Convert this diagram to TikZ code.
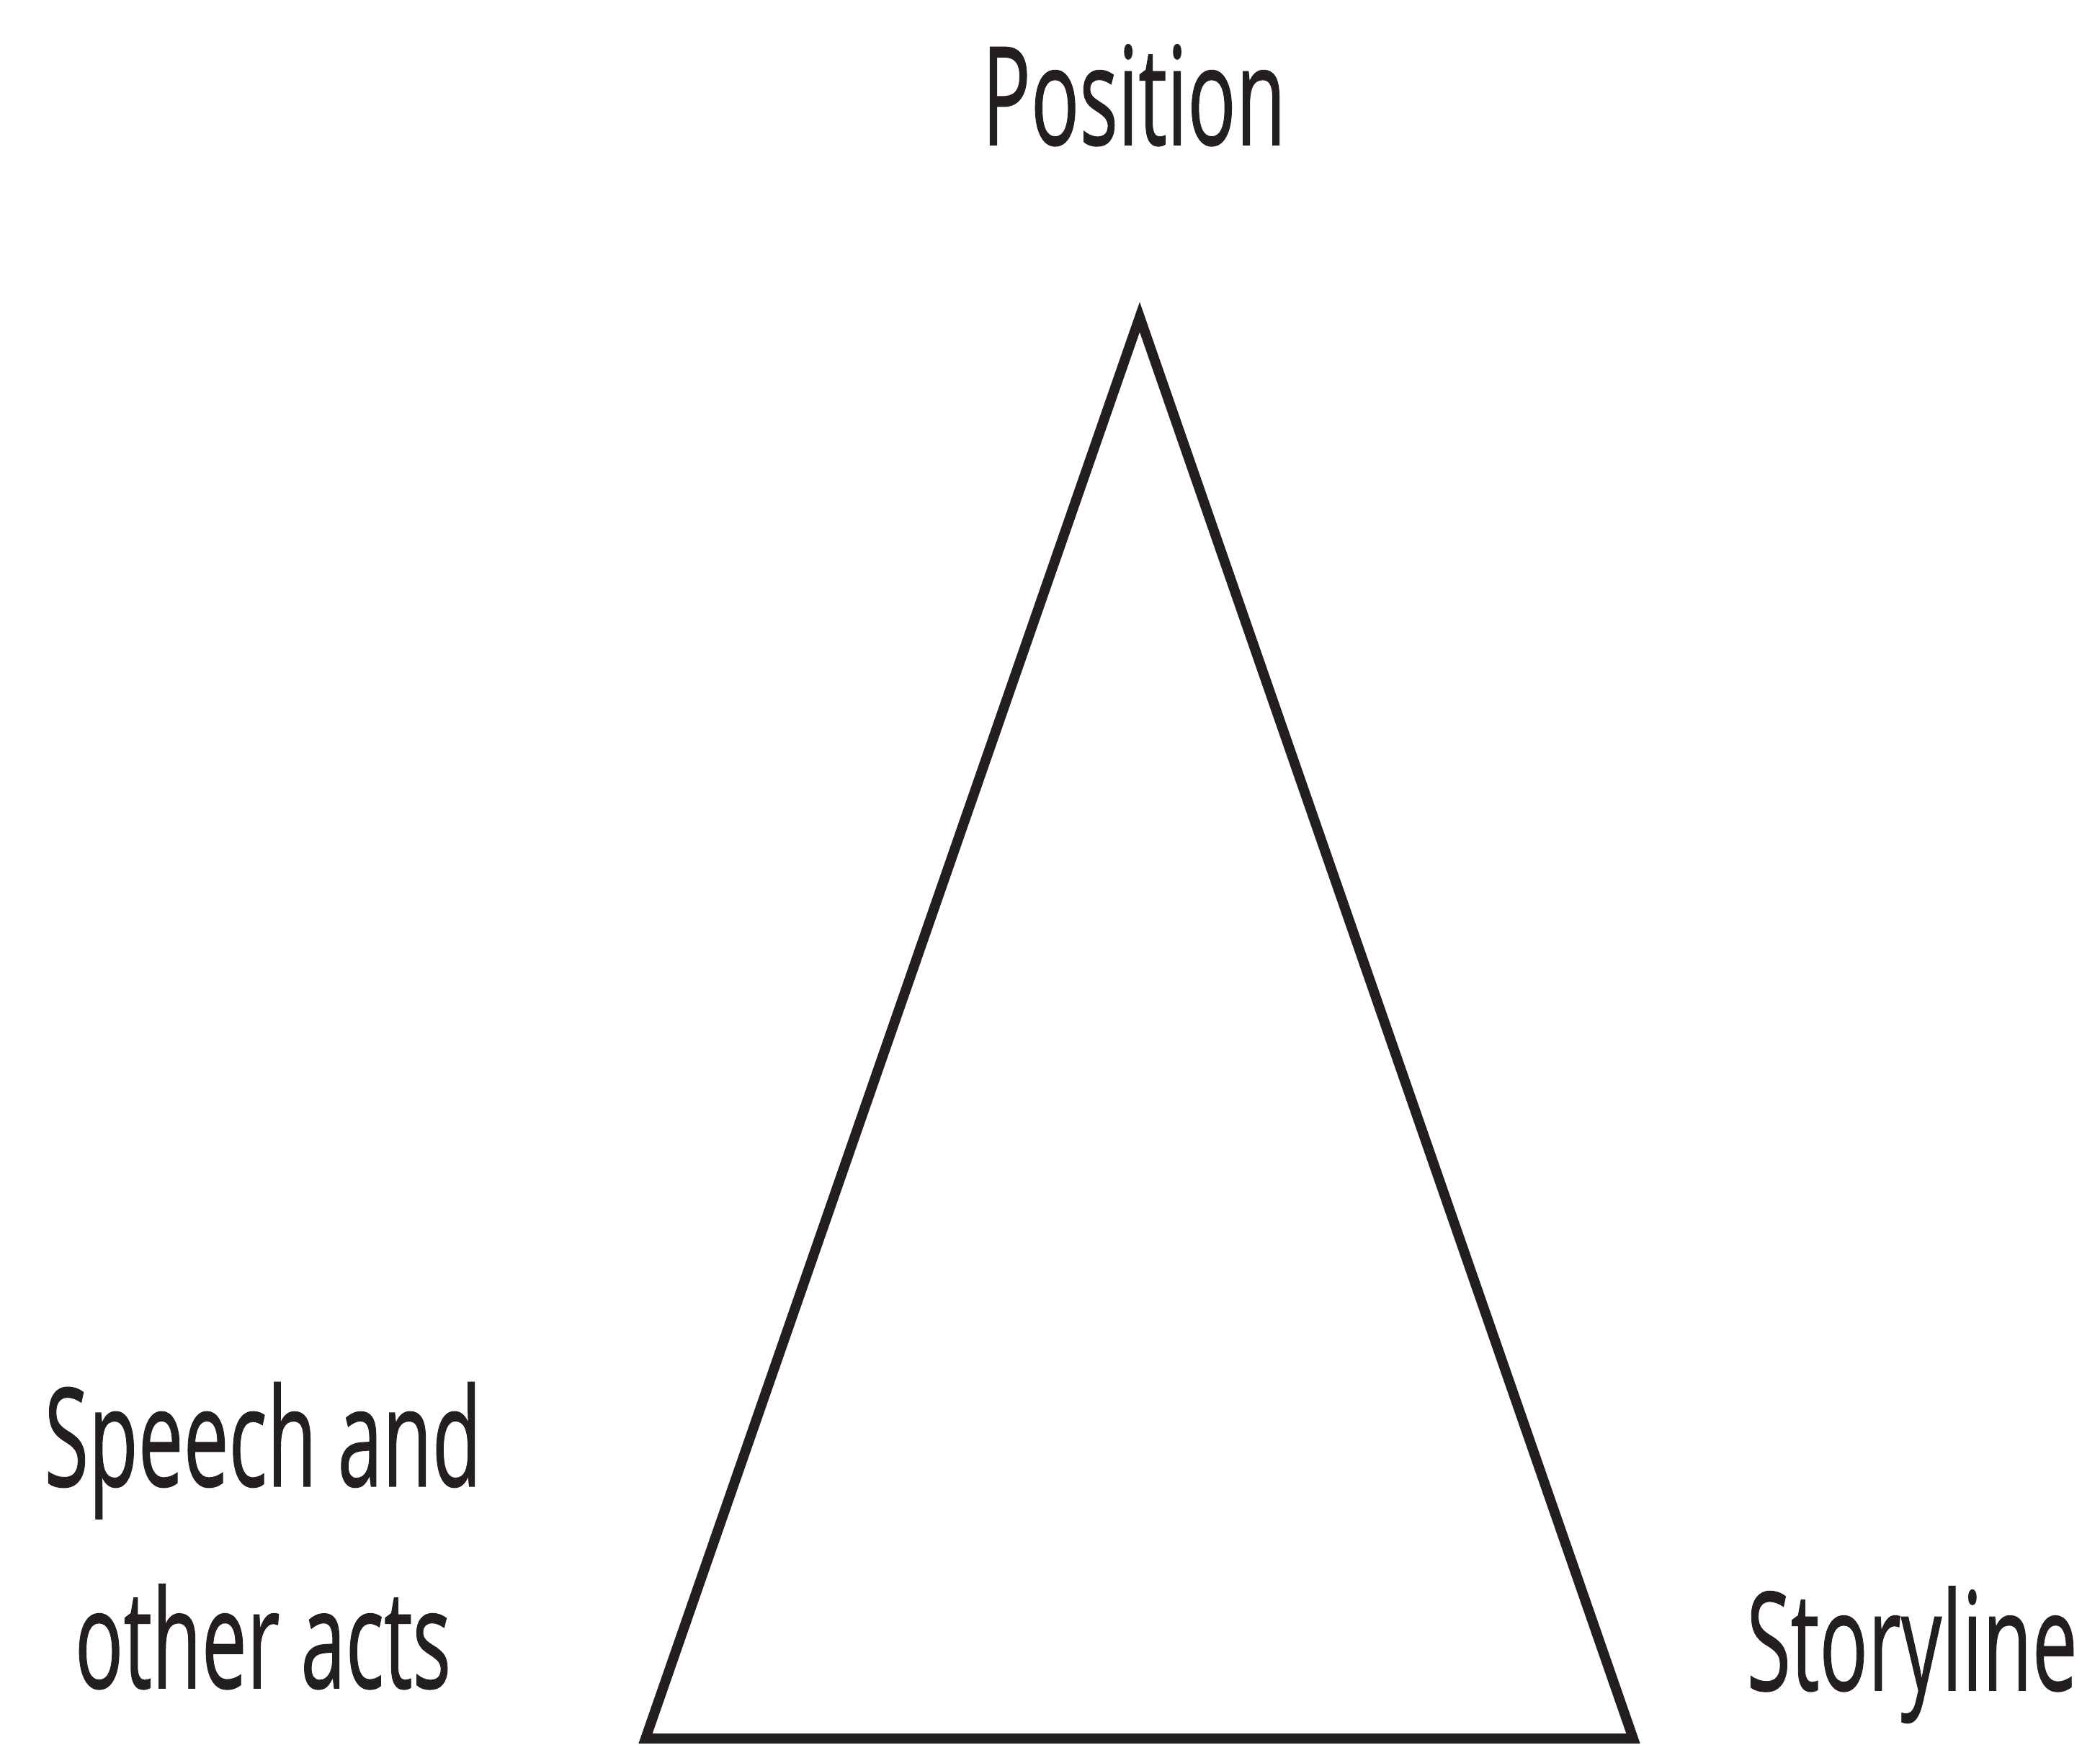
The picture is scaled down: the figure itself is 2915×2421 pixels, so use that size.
\documentclass[tikz,border=0pt]{standalone}
\usepackage{fontspec}
\setmainfont{Open Sans}[FakeBold=0.8]
\definecolor{ink}{HTML}{231F20}
\newcommand{\narrow}[1]{\scalebox{0.59}[1]{#1}}
\begin{document}
\begin{tikzpicture}[x=0.01cm, y=-0.01cm,
  lbl/.style={font=\fontsize{54}{79.7}\selectfont, text=ink, inner sep=0pt, align=center},
  edge/.style={draw=ink, line width=3.9pt, line join=miter}]
\useasboundingbox (0,0) rectangle (2915,2421);

% corners of the triangle
\coordinate (apex) at (1582,440);
\coordinate (left) at (896,2413);
\coordinate (right) at (2267,2413);

\draw[edge] (apex) -- (left) -- (right) -- cycle;

% corner labels
\node[lbl, anchor=base] (position) at (1574,201) {\narrow{Position}};
\node[lbl, anchor=base] (speech) at (365,2343) {\narrow{Speech and}\\\narrow{other acts}};
\node[lbl, anchor=base] (storyline) at (2654,2346) {\narrow{Storyline}};
\end{tikzpicture}
\end{document}
